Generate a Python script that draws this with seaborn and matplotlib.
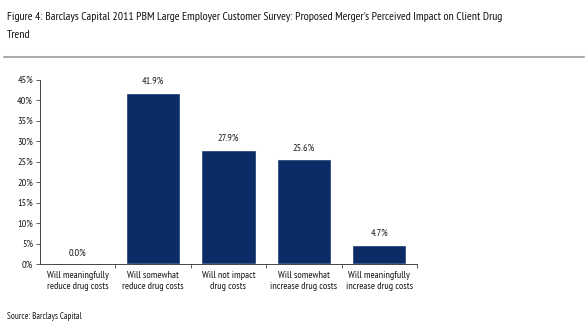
import matplotlib
matplotlib.use("Agg")
import matplotlib.pyplot as plt
import seaborn as sns
import pandas as pd
from matplotlib.lines import Line2D

categories = ["Will meaningfully\nreduce drug costs", "Will somewhat\nreduce drug costs",
              "Will not impact\ndrug costs", "Will somewhat\nincrease drug costs",
              "Will meaningfully\nincrease drug costs"]
values = [0.0, 41.9, 27.9, 25.6, 4.7]
yticks = [0, 5, 10, 15, 20, 25, 30, 35, 40, 45]

sns.set_theme(style="white")
plt.rcParams['font.family'] = ['PT Sans Narrow', 'Fira Sans Condensed', 'DejaVu Sans']
plt.rcParams['font.weight'] = 'normal'
plt.rcParams['text.color'] = '#1a1a1a'
plt.rcParams['xtick.color'] = '#1a1a1a'
plt.rcParams['ytick.color'] = '#1a1a1a'

df = pd.DataFrame({"cat": categories, "val": values})
fig = plt.figure(figsize=(5.88, 3.3), dpi=100)
ax = fig.add_axes([0.068, 0.2, 0.641, 0.558])
sns.barplot(data=df, x="cat", y="val", color="#0c2c68", saturation=1, width=0.72, ax=ax)
ax.set_xlim(-0.5, 4.5)
ax.set_ylim(0, 45)
ax.set_yticks(yticks)
ax.set_yticklabels([f"{t}%" for t in yticks], fontsize=7.4)
ax.set_xticks([0.5, 1.5, 2.5, 3.5, 4.5])
ax.set_xticklabels([])
ax.set_xticks(range(5), minor=True)
ax.set_xticklabels(categories, minor=True, fontsize=7.3, linespacing=1.35)
ax.tick_params(axis='x', which='minor', length=0, pad=5)
ax.tick_params(axis='x', which='major', length=3, width=0.6, direction='out', bottom=True, color='#444444')
ax.tick_params(axis='y', length=3, width=0.6, direction='out', left=True, color='#444444', pad=2)
ax.set_xlabel("")
ax.set_ylabel("")
for s in ["top", "right"]:
    ax.spines[s].set_visible(False)
for s in ["left", "bottom"]:
    ax.spines[s].set_color("#444444")
    ax.spines[s].set_linewidth(0.7)
for i, v in enumerate(values):
    ax.text(i, v + 1.6, f"{v:.1f}%", ha="center", va="bottom", fontsize=7.4, color="#1a1a1a")

fig.text(0.012, 0.95, "Figure 4: Barclays Capital 2011 PBM Large Employer Customer Survey: Proposed Merger's Perceived Impact on Client Drug",
         fontsize=8.5, va="center", ha="left", color="#111111")
fig.text(0.012, 0.895, "Trend", fontsize=8.5, va="center", ha="left", color="#111111")
fig.add_artist(Line2D([0.007, 0.993], [0.828, 0.828], color="#aaaaaa", lw=1.5, transform=fig.transFigure))
fig.text(0.012, 0.042, "Source: Barclays Capital", fontsize=6.5, va="center", ha="left", color="#1a1a1a")

fig.savefig("out.png", dpi=100)
